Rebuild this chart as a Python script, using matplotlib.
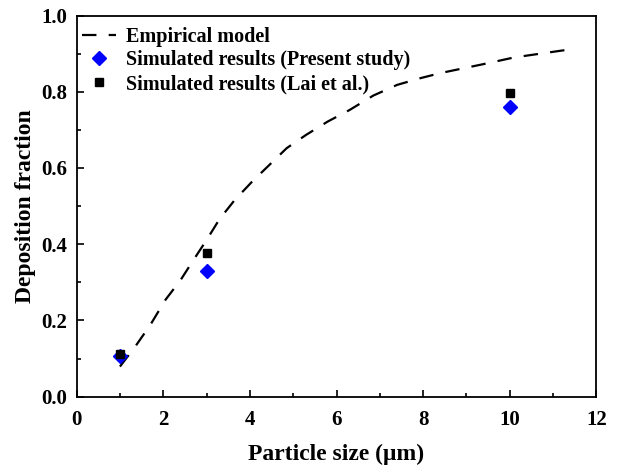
import numpy as np
import matplotlib
matplotlib.use("Agg")
import matplotlib.pyplot as plt
from matplotlib.ticker import MultipleLocator

plt.rcParams['font.family'] = ['Liberation Serif', 'DejaVu Serif']
plt.rcParams['font.weight'] = 'bold'

# empirical deposition curve
model_x = [1.0, 1.35, 1.7, 2.05, 2.4, 2.7, 3.0, 3.3, 3.65, 4.05, 4.45, 4.85,
           5.3, 5.8, 6.3, 6.85, 7.4, 7.95, 8.4, 8.95, 9.5, 10.1, 10.65, 11.2, 11.35]
model_y = [0.079, 0.131, 0.188, 0.254, 0.306, 0.359, 0.411, 0.466, 0.516, 0.564,
           0.608, 0.652, 0.687, 0.722, 0.752, 0.790, 0.818, 0.836, 0.849, 0.862,
           0.875, 0.890, 0.899, 0.908, 0.910]

# simulated points
sizes = [1, 3, 10]
present = [0.106, 0.330, 0.761]
lai = [0.113, 0.376, 0.797]

fig = plt.figure(figsize=(6.18, 4.70), dpi=100)
ax = fig.add_axes([0.124, 0.156, 0.841, 0.811])

ax.plot(model_x, model_y, color='black', lw=1.6, ls=(0, (6.5, 5.5)), label='Empirical model')
ax.plot(sizes, present, ls='none', marker='D', ms=7, color='#0000ff',
        label='Simulated results (Present study)')
ax.plot(sizes, lai, ls='none', marker='s', ms=6, color='black',
        label='Simulated results (Lai et al.)')

ax.set_xlim(0, 12)
ax.set_ylim(0, 1.0)
ax.xaxis.set_major_locator(MultipleLocator(2))
ax.xaxis.set_minor_locator(MultipleLocator(1))
ax.yaxis.set_major_locator(MultipleLocator(0.2))
ax.yaxis.set_minor_locator(MultipleLocator(0.1))
ax.yaxis.set_major_formatter(plt.FormatStrFormatter('%.1f'))
ax.tick_params(which='both', direction='in', labelsize=15, width=1.2)
ax.tick_params(which='major', length=5)
ax.tick_params(which='minor', length=3)
ax.tick_params(axis='x', pad=9.5)
ax.tick_params(axis='y', pad=6.5)
for s in ax.spines.values():
    s.set_linewidth(1.3)

ax.set_xlabel('Particle size (\u03bcm)', fontsize=17, fontweight='bold', labelpad=10)
ax.set_ylabel('Deposition fraction', fontsize=17, fontweight='bold', labelpad=4)

leg = ax.legend(loc='upper left', bbox_to_anchor=(-0.012, 1.0), frameon=False,
                fontsize=14.5, handlelength=1.7, borderpad=0.2, borderaxespad=0.36,
                labelspacing=0.18, handletextpad=0.5)

fig.savefig('out.png', dpi=100)
